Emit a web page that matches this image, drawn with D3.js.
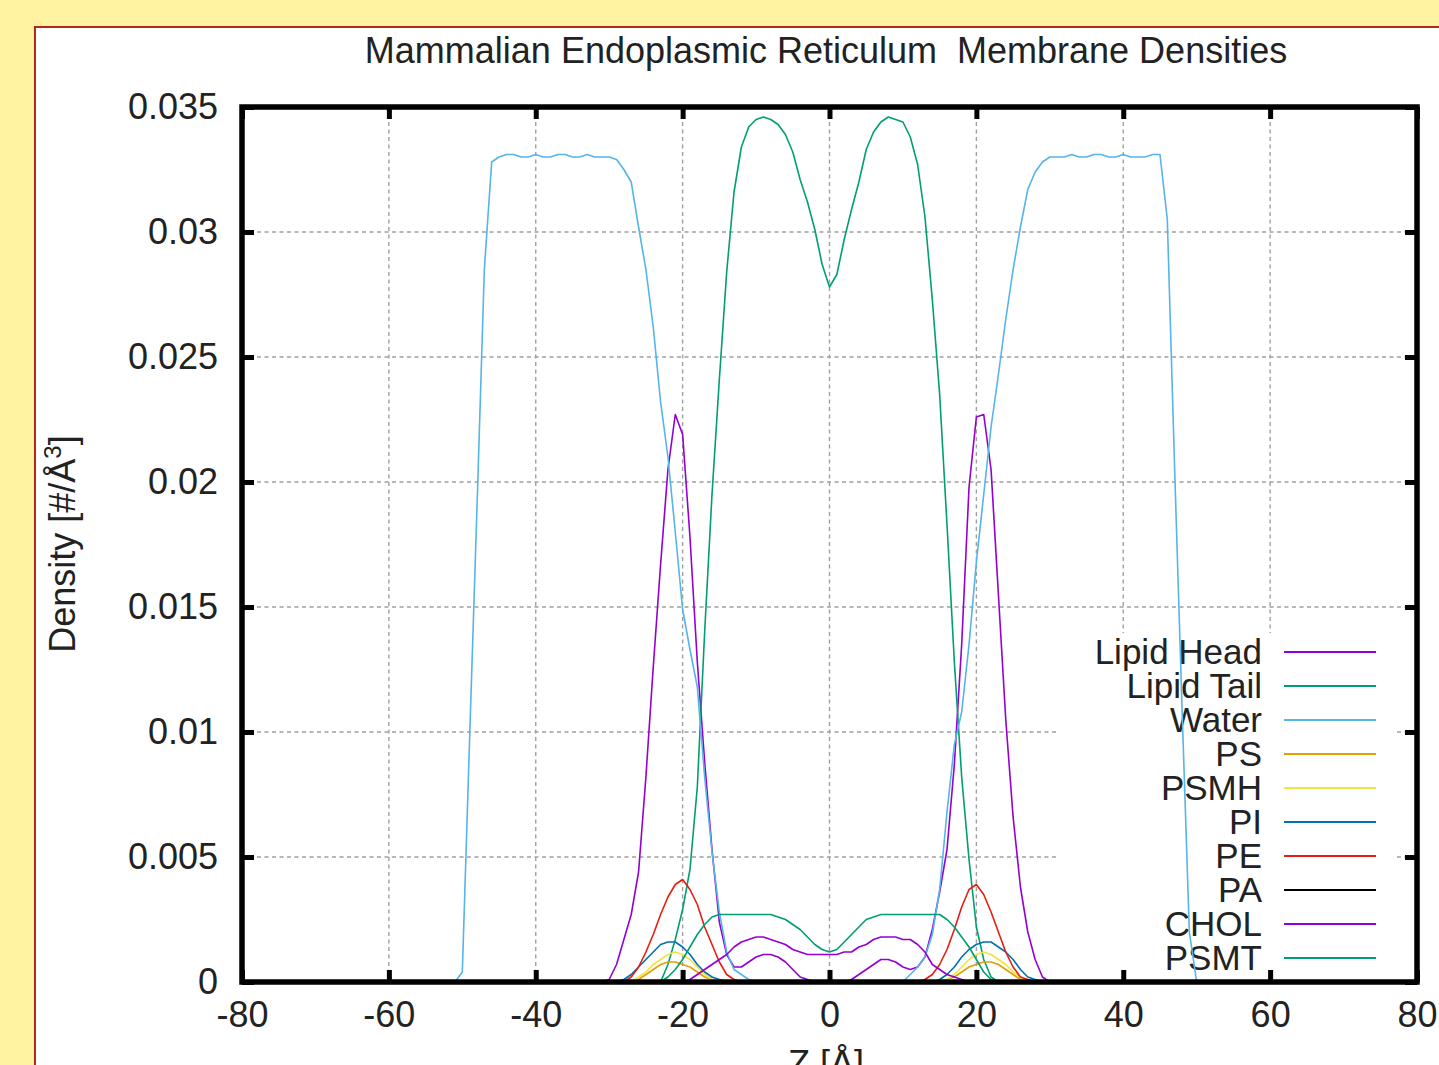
<!DOCTYPE html>
<html>
<head>
<meta charset="utf-8">
<script src="https://cdn.jsdelivr.net/npm/d3@7"></script>
<style>
  html, body { margin: 0; padding: 0; background: #fff3a1; overflow: hidden; }
  svg { display: block; font-family: "Liberation Sans", Arial, sans-serif; }
  text { fill: #222; }
</style>
</head>
<body>
<div id="chart"></div>
<script>
// sample positions along the membrane normal (Å)
const zWater = [
  -52, -51, -50, -49, -48, -47, -46, -45, -44, -43,
  -42, -41, -40, -39, -38, -37, -36, -35, -34, -33,
  -32, -31, -30, -29, -28, -27, -26, -25, -24, -23,
  -22, -21, -20, -19, -18, -17, -16, -15, -14, -13,
  -12, -11, -10, -9, -8, -7, -6, -5, -4, -3,
  -2, -1, 0, 1, 2, 3, 4, 5, 6, 7,
  8, 9, 10, 11, 12, 13, 14, 15, 16, 17,
  18, 19, 20, 21, 22, 23, 24, 25, 26, 27,
  28, 29, 30, 31, 32, 33, 34, 35, 36, 37,
  38, 39, 40, 41, 42, 43, 44, 45, 46, 47,
  48, 49, 50, 51, 52
];
const zInner = [
  -31, -30, -29, -28, -27, -26, -25, -24, -23, -22,
  -21, -20, -19, -18, -17, -16, -15, -14, -13, -12,
  -11, -10, -9, -8, -7, -6, -5, -4, -3, -2,
  -1, 0, 1, 2, 3, 4, 5, 6, 7, 8,
  9, 10, 11, 12, 13, 14, 15, 16, 17, 18,
  19, 20, 21, 22, 23, 24, 25, 26, 27, 28,
  29, 30, 31
];

const water = [
  0, 0, 0.0004, 0.0098, 0.0190, 0.0285, 0.0328, 0.0330, 0.0331, 0.0331,
  0.0330, 0.0330, 0.0331, 0.0330, 0.0330, 0.0331, 0.0331, 0.0330, 0.0330, 0.0331,
  0.0330, 0.0330, 0.0330, 0.0329, 0.0325, 0.0320, 0.0302, 0.0285, 0.0262, 0.0232,
  0.0210, 0.0180, 0.0149, 0.0133, 0.0118, 0.0082, 0.0052, 0.0028, 0.0012, 0.0005,
  0.0003, 0.0001, 0, 0, 0, 0, 0, 0, 0, 0,
  0, 0, 0, 0, 0, 0, 0, 0, 0, 0,
  0, 0, 0, 0.0003, 0.0006, 0.0010, 0.0019, 0.0037, 0.0068, 0.0095,
  0.0108, 0.0135, 0.0168, 0.0195, 0.0222, 0.0243, 0.0265, 0.0285, 0.0302, 0.0317,
  0.0324, 0.0328, 0.0330, 0.0330, 0.0330, 0.0331, 0.0330, 0.0330, 0.0331, 0.0331,
  0.0330, 0.0330, 0.0331, 0.0330, 0.0330, 0.0330, 0.0331, 0.0331, 0.0305, 0.0205,
  0.0110, 0.0020, 0, 0, 0
];

const lipidHead = [
  0, 0.0001, 0.0007, 0.0017, 0.0027, 0.0044, 0.0082, 0.0126, 0.0167, 0.0205,
  0.0227, 0.0219, 0.0178, 0.0128, 0.0088, 0.0053, 0.0024, 0.0011, 0.0006, 0.0006,
  0.0008, 0.0010, 0.0011, 0.0011, 0.0010, 0.0008, 0.0005, 0.0002, 0.0001, 0,
  0, 0, 0, 0, 0.0001, 0.0003, 0.0005, 0.0007, 0.0009, 0.0009,
  0.0008, 0.0006, 0.0005, 0.0006, 0.0010, 0.0021, 0.0036, 0.0053, 0.0087, 0.0135,
  0.0198, 0.0226, 0.0227, 0.0205, 0.0155, 0.0105, 0.0066, 0.0038, 0.0020, 0.0009,
  0.0002, 0, 0
];
const lipidTail = [
  0, 0, 0, 0, 0, 0, 0, 0, 0, 0.0007,
  0.0017, 0.0029, 0.0045, 0.0078, 0.0140, 0.0195, 0.0241, 0.0284, 0.0316, 0.0334,
  0.0342, 0.0345, 0.0346, 0.0345, 0.0343, 0.0339, 0.0332, 0.0321, 0.0312, 0.0301,
  0.0287, 0.0278, 0.0283, 0.0297, 0.0309, 0.0320, 0.0333, 0.0340, 0.0344, 0.0346,
  0.0345, 0.0344, 0.0338, 0.0327, 0.0306, 0.0273, 0.0235, 0.0183, 0.0128, 0.0082,
  0.0049, 0.0022, 0.0009, 0.0002, 0, 0, 0, 0, 0, 0,
  0, 0, 0
];
const ps = [
  0, 0, 0, 0, 0, 0.0001, 0.0003, 0.0005, 0.0007, 0.0008,
  0.0008, 0.0007, 0.0006, 0.0004, 0.0002, 0.0001, 0, 0, 0, 0,
  0, 0, 0, 0, 0, 0, 0, 0, 0, 0,
  0, 0, 0, 0, 0, 0, 0, 0, 0, 0,
  0, 0, 0, 0, 0, 0, 0, 0.0001, 0.0002, 0.0004,
  0.0006, 0.0007, 0.0008, 0.0008, 0.0007, 0.0005, 0.0003, 0.0001, 0, 0,
  0, 0, 0
];
const psmh = [
  0, 0, 0, 0, 0, 0.0002, 0.0004, 0.0007, 0.0009, 0.0011,
  0.0012, 0.0011, 0.0009, 0.0006, 0.0003, 0.0001, 0, 0, 0, 0,
  0, 0, 0, 0, 0, 0, 0, 0, 0, 0,
  0, 0, 0, 0, 0, 0, 0, 0, 0, 0,
  0, 0, 0, 0, 0, 0, 0, 0.0001, 0.0003, 0.0006,
  0.0009, 0.0011, 0.0012, 0.0011, 0.0009, 0.0007, 0.0004, 0.0002, 0, 0,
  0, 0, 0
];
const pi = [
  0, 0, 0, 0.0001, 0.0003, 0.0006, 0.0009, 0.0012, 0.0015, 0.0016,
  0.0016, 0.0014, 0.0011, 0.0007, 0.0004, 0.0002, 0.0001, 0, 0, 0,
  0, 0, 0, 0, 0, 0, 0, 0, 0, 0,
  0, 0, 0, 0, 0, 0, 0, 0, 0, 0,
  0, 0, 0, 0, 0, 0, 0.0001, 0.0003, 0.0006, 0.0010,
  0.0013, 0.0015, 0.0016, 0.0016, 0.0014, 0.0012, 0.0009, 0.0005, 0.0002, 0.0001,
  0, 0, 0
];
const pe = [
  0, 0, 0, 0, 0.0002, 0.0006, 0.0012, 0.0019, 0.0027, 0.0034,
  0.0039, 0.0041, 0.0037, 0.0031, 0.0022, 0.0015, 0.0008, 0.0003, 0.0001, 0,
  0, 0, 0, 0, 0, 0, 0, 0, 0, 0,
  0, 0, 0, 0, 0, 0, 0, 0, 0, 0,
  0, 0, 0, 0, 0.0001, 0.0003, 0.0007, 0.0013, 0.0021, 0.0030,
  0.0037, 0.0039, 0.0035, 0.0028, 0.0020, 0.0012, 0.0006, 0.0002, 0.0001, 0,
  0, 0, 0
];
const pa = [
  0, 0, 0, 0, 0, 0, 0, 0.00003, 0.00005, 0.00006,
  0.00006, 0.00005, 0.00003, 0, 0, 0, 0, 0, 0, 0,
  0, 0, 0, 0, 0, 0, 0, 0, 0, 0,
  0, 0, 0, 0, 0, 0, 0, 0, 0, 0,
  0, 0, 0, 0, 0, 0, 0, 0, 0, 0,
  0.00003, 0.00005, 0.00006, 0.00006, 0.00005, 0.00003, 0, 0, 0, 0,
  0, 0, 0
];
const chol = [
  0, 0, 0, 0, 0, 0, 0, 0, 0, 0,
  0, 0, 0.0001, 0.0003, 0.0005, 0.0007, 0.0009, 0.0011, 0.0014, 0.0016,
  0.0017, 0.0018, 0.0018, 0.0017, 0.0016, 0.0015, 0.0013, 0.0012, 0.0011, 0.0011,
  0.0011, 0.0011, 0.0011, 0.0012, 0.0012, 0.0014, 0.0015, 0.0017, 0.0018, 0.0018,
  0.0018, 0.0017, 0.0017, 0.0015, 0.0012, 0.0007, 0.0005, 0.0003, 0.0002, 0.0001,
  0, 0, 0, 0, 0, 0, 0, 0, 0, 0,
  0, 0, 0
];
const psmt = [
  0, 0, 0, 0, 0, 0, 0, 0, 0, 0.0002,
  0.0005, 0.0009, 0.0014, 0.0019, 0.0023, 0.0026, 0.0027, 0.0027, 0.0027, 0.0027,
  0.0027, 0.0027, 0.0027, 0.0027, 0.0026, 0.0025, 0.0023, 0.0021, 0.0018, 0.0015,
  0.0013, 0.0012, 0.0013, 0.0016, 0.0019, 0.0022, 0.0025, 0.0026, 0.0027, 0.0027,
  0.0027, 0.0027, 0.0027, 0.0027, 0.0027, 0.0027, 0.0027, 0.0025, 0.0022, 0.0018,
  0.0014, 0.0009, 0.0004, 0.0001, 0, 0, 0, 0, 0, 0,
  0, 0, 0
];

const seriesNames = ['Lipid Head', 'Lipid Tail', 'Water', 'PS', 'PSMH', 'PI', 'PE', 'PA', 'CHOL', 'PSMT'];
const seriesColors = ['#9400d3', '#009e73', '#56b4e9', '#e69f00', '#f0e442', '#0072b2', '#e51e10', '#000000', '#9400d3', '#009e73'];

const xTicks = [-80, -60, -40, -20, 0, 20, 40, 60, 80];
const xTickLabels = ['-80', '-60', '-40', '-20', '0', '20', '40', '60', '80'];
const yTicks = [0, 0.005, 0.01, 0.015, 0.02, 0.025, 0.03, 0.035];
const yTickLabels = ['0', '0.005', '0.01', '0.015', '0.02', '0.025', '0.03', '0.035'];

const series = [
  { z: zInner, v: lipidHead },
  { z: zInner, v: lipidTail },
  { z: zWater, v: water },
  { z: zInner, v: ps },
  { z: zInner, v: psmh },
  { z: zInner, v: pi },
  { z: zInner, v: pe },
  { z: zInner, v: pa },
  { z: zInner, v: chol },
  { z: zInner, v: psmt }
].map((s, i) => ({
  name: seriesNames[i],
  color: seriesColors[i],
  points: s.z.map((z, j) => [z, s.v[j]]).filter(p => p[1] !== undefined)
}));

const W = 1439, H = 1065;
const plot = { left: 242, right: 1417, top: 107, bottom: 982 };
const fontSize = 36;

const svg = d3.select('#chart').append('svg')
  .attr('width', W)
  .attr('height', H);

// white page panel with thin red border
svg.append('rect')
  .attr('x', 35).attr('y', 27)
  .attr('width', W + 20).attr('height', H + 20)
  .attr('fill', 'white')
  .attr('stroke', '#b3261a')
  .attr('stroke-width', 2);

const x = d3.scaleLinear().domain([-80, 80]).range([plot.left, plot.right]);
const y = d3.scaleLinear().domain([0, 0.035]).range([plot.bottom, plot.top]);

// grid
const grid = svg.append('g')
  .attr('stroke', '#a0a0a0')
  .attr('stroke-width', 1.4)
  .attr('stroke-dasharray', '4,3.5');

grid.selectAll('line.h')
  .data(yTicks.slice(1, -1))
  .join('line')
    .attr('class', 'h')
    .attr('x1', plot.left).attr('x2', plot.right)
    .attr('y1', d => y(d)).attr('y2', d => y(d));

grid.selectAll('line.v')
  .data(xTicks.slice(1, -1))
  .join('line')
    .attr('class', 'v')
    .attr('x1', d => x(d)).attr('x2', d => x(d))
    .attr('y1', plot.top).attr('y2', plot.bottom);

// legend box covers the grid
const legend = svg.append('g');
legend.append('rect')
  .attr('x', 1058).attr('y', 633)
  .attr('width', 336).attr('height', 346)
  .attr('fill', 'white');

const legendRow = legend.selectAll('g.row')
  .data(series)
  .join('g')
    .attr('class', 'row')
    .attr('transform', (d, i) => `translate(0,${652 + i * 34})`);

legendRow.append('text')
  .attr('x', 1262)
  .attr('y', 12)
  .attr('text-anchor', 'end')
  .attr('font-size', 35)
  .text(d => d.name);

legendRow.append('line')
  .attr('x1', 1284).attr('x2', 1376)
  .attr('y1', 0).attr('y2', 0)
  .attr('stroke', d => d.color)
  .attr('stroke-width', 1.8);

// data
const line = d3.line()
  .x(d => x(d[0]))
  .y(d => y(d[1]));

svg.append('g')
  .selectAll('path')
  .data(series)
  .join('path')
    .attr('d', d => line(d.points))
    .attr('fill', 'none')
    .attr('stroke', d => d.color)
    .attr('stroke-width', 1.6)
    .attr('stroke-linejoin', 'round');

// axes with inward ticks
function styleAxis(g) {
  g.select('.domain').remove();
  g.selectAll('.tick line').attr('stroke', 'black').attr('stroke-width', 5);
  g.selectAll('.tick text')
    .attr('font-size', fontSize)
    .attr('font-family', '"Liberation Sans", Arial, sans-serif')
    .attr('fill', '#222');
}

svg.append('g')
  .attr('transform', `translate(0,${plot.bottom})`)
  .call(d3.axisBottom(x).tickValues(xTicks).tickSize(-12).tickPadding(19)
    .tickFormat((d, i) => xTickLabels[i]))
  .call(styleAxis);

svg.append('g')
  .attr('transform', `translate(0,${plot.top})`)
  .call(d3.axisTop(x).tickValues(xTicks).tickSize(-12).tickFormat(''))
  .call(styleAxis);

svg.append('g')
  .attr('transform', `translate(${plot.left},0)`)
  .call(d3.axisLeft(y).tickValues(yTicks).tickSize(-12).tickPadding(24)
    .tickFormat((d, i) => yTickLabels[i]))
  .call(styleAxis);

svg.append('g')
  .attr('transform', `translate(${plot.right},0)`)
  .call(d3.axisRight(y).tickValues(yTicks).tickSize(-12).tickFormat(''))
  .call(styleAxis);

// plot border
svg.append('rect')
  .attr('x', plot.left).attr('y', plot.top)
  .attr('width', plot.right - plot.left)
  .attr('height', plot.bottom - plot.top)
  .attr('fill', 'none')
  .attr('stroke', 'black')
  .attr('stroke-width', 5.5);

// titles
svg.append('text')
  .attr('x', 826).attr('y', 63)
  .attr('text-anchor', 'middle')
  .attr('font-size', fontSize)
  .style('white-space', 'pre')
  .text('Mammalian Endoplasmic Reticulum  Membrane Densities');

svg.append('text')
  .attr('x', 826).attr('y', 1076)
  .attr('text-anchor', 'middle')
  .attr('font-size', fontSize)
  .text('Z [Å]');

const yLabel = svg.append('text')
  .attr('transform', 'translate(75,544) rotate(-90)')
  .attr('text-anchor', 'middle')
  .attr('font-size', fontSize);
yLabel.append('tspan').text('Density [#/Å');
yLabel.append('tspan').attr('font-size', 24).attr('dy', -14).text('3');
yLabel.append('tspan').attr('dy', 14).text(']');
</script>
</body>
</html>
